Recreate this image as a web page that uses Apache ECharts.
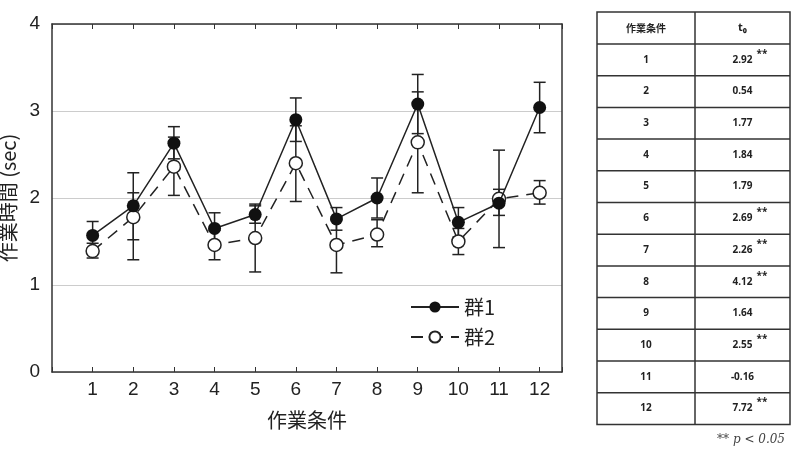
<!DOCTYPE html><html><head><meta charset="utf-8"><script src="https://cdn.jsdelivr.net/npm/echarts@6/dist/echarts.min.js"></script></head><body style="margin:0;background:#fff"><div id="c" style="width:795px;height:450px"></div><script>
const conds=[1,2,3,4,5,6,7,8,9,10,11,12];
const g1=[1.57,1.91,2.63,1.65,1.81,2.90,1.76,2.00,3.08,1.72,1.94,3.04];
const g1Lo=[1.42,1.52,2.45,1.47,1.71,2.65,1.63,1.77,2.74,1.55,1.80,2.75];
const g1Hi=[1.73,2.29,2.82,1.83,1.91,3.15,1.89,2.23,3.42,1.89,2.10,3.33];
const g2=[1.39,1.78,2.36,1.46,1.54,2.40,1.46,1.58,2.64,1.50,1.99,2.06];
const g2Lo=[1.31,1.29,2.03,1.29,1.15,1.96,1.14,1.44,2.06,1.35,1.43,1.93];
const g2Hi=[1.48,2.06,2.70,1.63,1.93,2.83,1.78,1.75,3.22,1.65,2.55,2.20];
const tHead=['作業条件','t₀'];
const tVals=['2.92','0.54','1.77','1.84','1.79','2.69','2.26','4.12','1.64','2.55','-0.16','7.72'];
const tSig=[true,false,false,false,false,true,true,true,false,true,false,true];
const ch=echarts.init(document.getElementById('c'));
function errSeries(lo,hi){return{type:'custom',data:conds.map((c,i)=>[c,lo[i],hi[i]]),z:1,silent:true,
renderItem:(p,api)=>{const a=api.coord([api.value(0),api.value(1)]),b=api.coord([api.value(0),api.value(2)]);const w=6;
return{type:'group',children:[{type:'line',shape:{x1:a[0],y1:a[1],x2:b[0],y2:b[1]},style:{stroke:'#222',lineWidth:1.5}},
{type:'line',shape:{x1:a[0]-w,y1:a[1],x2:a[0]+w,y2:a[1]},style:{stroke:'#222',lineWidth:1.5}},
{type:'line',shape:{x1:b[0]-w,y1:b[1],x2:b[0]+w,y2:b[1]},style:{stroke:'#222',lineWidth:1.5}}]};}};}
const gr=[];const tx=597,tw=193,cx=695,ty=12,hh=32,rh=31.7;
gr.push({type:'rect',shape:{x:tx,y:ty,width:tw,height:hh+rh*12},style:{fill:'#fff',stroke:'#333',lineWidth:1.5}});
gr.push({type:'line',shape:{x1:cx,y1:ty,x2:cx,y2:ty+hh+rh*12},style:{stroke:'#333',lineWidth:1.5}});
gr.push({type:'text',x:(tx+cx)/2,y:ty+hh/2,style:{text:tHead[0],font:'bold 10px "Noto Sans CJK JP"',fill:'#222',align:'center',verticalAlign:'middle'}});
gr.push({type:'text',x:(cx+tx+tw)/2,y:ty+hh/2,style:{text:tHead[1],font:'bold 11px "Noto Sans"',fill:'#222',align:'center',verticalAlign:'middle'}});
conds.forEach((c,i)=>{const y=ty+hh+rh*i;
gr.push({type:'line',shape:{x1:tx,y1:y,x2:tx+tw,y2:y},style:{stroke:'#333',lineWidth:1.5}});
gr.push({type:'text',x:(tx+cx)/2,y:y+rh/2,style:{text:String(c),font:'bold 10px "Noto Sans"',fill:'#222',align:'center',verticalAlign:'middle'}});
gr.push({type:'text',x:(cx+tx+tw)/2,y:y+rh/2,style:{text:tVals[i],font:'bold 10px "Noto Sans"',fill:'#222',align:'center',verticalAlign:'middle'}});
if(tSig[i])gr.push({type:'text',x:(cx+tx+tw)/2+14,y:y+rh/2-6,style:{text:'**',font:'bold 10px "Noto Sans"',fill:'#222',align:'left',verticalAlign:'middle'}});});
gr.push({type:'text',x:785,y:440,style:{text:'** p < 0.05',font:'italic 12px "DejaVu Serif"',fill:'#444',align:'right',verticalAlign:'middle'}});
const lineS={show:true,onZero:false,lineStyle:{color:'#333',width:1.5}};
ch.setOption({animation:false,
grid:{left:52,top:24,width:510,height:348,outerBoundsMode:'none',containLabel:false},
legend:{left:405,top:292,orient:'vertical',itemWidth:48,itemHeight:14,itemGap:10,textStyle:{fontSize:20,color:'#222',fontFamily:'Noto Sans CJK JP'},data:['群1','群2']},
xAxis:[{type:'value',min:0,max:12.55,interval:1,name:'作業条件',nameLocation:'middle',nameGap:38,nameTextStyle:{fontSize:20,color:'#222',fontFamily:'Noto Sans CJK JP'},
axisLine:lineS,axisTick:{inside:true,length:5,lineStyle:{color:'#333'}},splitLine:{show:false},
axisLabel:{fontSize:19,color:'#222',formatter:v=>(v>=1&&v<=12)?String(v):''}},
{type:'value',position:'top',min:0,max:12.55,interval:1,axisLine:lineS,axisTick:{inside:true,length:5,lineStyle:{color:'#333'}},axisLabel:{show:false},splitLine:{show:false}}],
yAxis:[{type:'value',min:0,max:4,interval:1,name:'作業時間 (sec)',nameLocation:'middle',nameGap:32,nameTextStyle:{fontSize:20,color:'#222',fontFamily:'Noto Sans CJK JP'},
axisLine:lineS,axisTick:{show:false},axisLabel:{fontSize:19,color:'#222',margin:12},splitLine:{lineStyle:{color:'#ccc'}}},
{type:'value',position:'right',min:0,max:4,interval:1,axisLine:lineS,axisTick:{show:false},axisLabel:{show:false},splitLine:{show:false}}],
series:[errSeries(g1Lo,g1Hi),errSeries(g2Lo,g2Hi),
{name:'群1',type:'line',data:conds.map((c,i)=>[c,g1[i]]),symbol:'circle',symbolSize:13,itemStyle:{color:'#111'},lineStyle:{color:'#222',width:1.5},z:3},
{name:'群2',type:'line',data:conds.map((c,i)=>[c,g2[i]]),symbol:'circle',symbolSize:13,itemStyle:{color:'#fff',borderColor:'#222',borderWidth:1.5},lineStyle:{color:'#222',width:1.5,type:[12,8]},z:2}],
graphic:gr});
</script></body></html>
